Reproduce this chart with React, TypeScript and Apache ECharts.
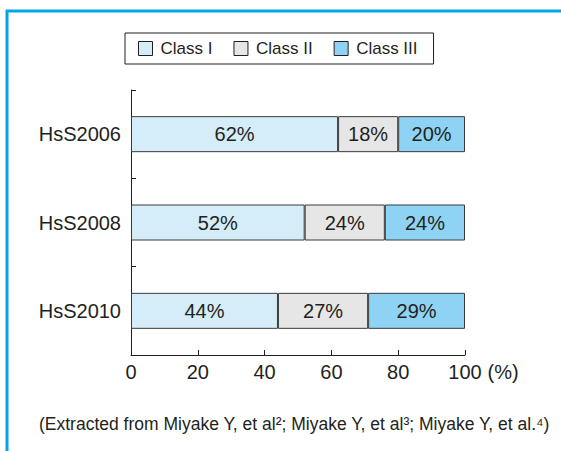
import React, { useEffect, useRef } from "react";
import * as echarts from "echarts";

const categories = ["HsS2006", "HsS2008", "HsS2010"];
const seriesNames = ["Class I", "Class II", "Class III"];
const classI = [62, 52, 44];
const classII = [18, 24, 27];
const classIII = [20, 24, 29];
const seriesColors = ["#d5ecf9", "#e6e6e6", "#8fd3f4"];
const footnote = "(Extracted from Miyake Y, et al\u00b2; Miyake Y, et al\u00b3; Miyake Y, et al.\u2074)";

export default function App() {
  const ref = useRef<HTMLDivElement>(null);
  useEffect(() => {
    if (!ref.current) return;
    const chart = echarts.init(ref.current, null, { renderer: "svg" });
    const font = "Liberation Sans, Arial, Helvetica, sans-serif";
    const textColor = "#231f20";
    const values = [classI, classII, classIII];
    chart.setOption({
      animation: false,
      backgroundColor: "#ffffff",
      textStyle: { fontFamily: font },
      legend: {
        left: 125,
        top: 33,
        padding: [7, 16, 7, 13],
        borderColor: "#231f20",
        borderWidth: 1,
        itemWidth: 14,
        itemHeight: 14,
        itemGap: 21,
        icon: "rect",
        itemStyle: { borderColor: "#231f20", borderWidth: 1 },
        textStyle: { fontSize: 17, color: textColor, fontFamily: font, padding: [0, 0, 0, 3] },
        data: seriesNames,
      },
      grid: { left: 131, right: 96, top: 90, bottom: 96, containLabel: false },
      xAxis: {
        type: "value",
        min: 0,
        max: 100,
        interval: 20,
        name: "(%)",
        nameLocation: "end",
        nameGap: 22,
        nameTextStyle: {
          fontSize: 20,
          color: textColor,
          fontFamily: font,
          verticalAlign: "top",
          padding: [7, 0, 0, 0],
        },
        axisLine: { show: true, lineStyle: { color: "#231f20", width: 1 } },
        axisTick: { show: true, inside: true, length: 5, lineStyle: { color: "#231f20" } },
        axisLabel: { fontSize: 20, color: textColor, margin: 7, fontFamily: font },
        splitLine: { show: false },
      },
      yAxis: {
        type: "category",
        data: categories,
        inverse: true,
        axisLine: { show: true, lineStyle: { color: "#231f20", width: 1 } },
        axisTick: { show: true, inside: true, length: 5, lineStyle: { color: "#231f20" } },
        axisLabel: { fontSize: 20, color: textColor, margin: 10, fontFamily: font },
      },
      series: seriesNames.map((name, i) => ({
        name,
        type: "bar",
        stack: "total",
        barWidth: 36,
        data: values[i],
        itemStyle: { color: seriesColors[i], borderColor: "#3a3a3a", borderWidth: 1 },
        label: {
          show: true,
          position: "inside",
          formatter: "{c}%",
          fontSize: 20,
          color: textColor,
          fontFamily: font,
        },
      })),
      graphic: [
        {
          type: "line",
          shape: { x1: 7, y1: 10, x2: 7, y2: 451 },
          style: { stroke: "#00a6e8", lineWidth: 3 },
        },
        {
          type: "line",
          shape: { x1: 6, y1: 11, x2: 561, y2: 11 },
          style: { stroke: "#00a6e8", lineWidth: 3 },
        },
        {
          type: "text",
          left: 39,
          top: 415,
          style: { text: footnote, fontSize: 17.5, fill: textColor, fontFamily: font },
        },
      ],
    });
    return () => chart.dispose();
  }, []);
  return (
    <div
      ref={ref}
      style={{ position: "fixed", left: 0, top: 0, width: 561, height: 451 }}
    />
  );
}
